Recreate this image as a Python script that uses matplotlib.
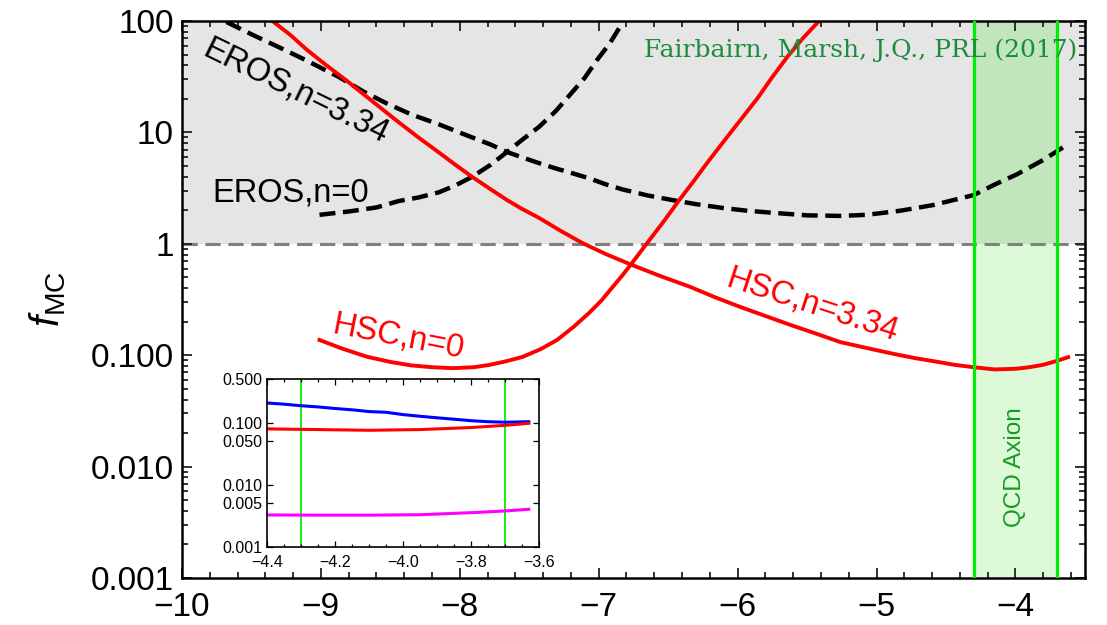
import numpy as np
import matplotlib
matplotlib.use("Agg")
import matplotlib.pyplot as plt
from matplotlib.ticker import FixedLocator, MultipleLocator, LogLocator, NullFormatter

plt.rcParams['font.family'] = ['Liberation Sans', 'DejaVu Sans']
plt.rcParams['mathtext.fontset'] = 'custom'
plt.rcParams['mathtext.rm'] = 'Liberation Sans'
plt.rcParams['mathtext.it'] = 'Liberation Sans:italic'

# ---- main panel data: log10 of mass vs. microhalo fraction ----
eros_n0_x = [-9.01, -8.80, -8.60, -8.44, -8.30, -8.15, -8.03, -7.91, -7.78, -7.66,
             -7.55, -7.43, -7.31, -7.19, -7.10, -7.01, -6.92, -6.83]
eros_n0_y = [1.82, 1.95, 2.12, 2.42, 2.6, 2.9, 3.35, 4.0, 5.1, 6.67,
             8.6, 11.2, 15.5, 23.0, 31.0, 45.0, 63.0, 96.0]

eros_n334_x = [-9.68, -9.50, -9.30, -9.10, -8.87, -8.70, -8.53, -8.35, -8.15, -8.03,
               -7.91, -7.78, -7.66, -7.54, -7.43, -7.31, -7.19, -7.07, -6.95, -6.83,
               -6.65, -6.47, -6.30, -6.11, -5.93, -5.75, -5.50, -5.26, -5.07, -4.83,
               -4.59, -4.30, -4.15, -3.99, -3.80, -3.62]
eros_n334_y = [98.0, 76.0, 58.0, 44.0, 31.4, 23.5, 18.3, 14.5, 11.8, 10.3,
               9.0, 7.8, 6.67, 5.9, 5.3, 4.75, 4.3, 3.88, 3.42, 3.08,
               2.72, 2.47, 2.27, 2.1, 1.98, 1.9, 1.8, 1.78, 1.82, 1.98,
               2.23, 2.74, 3.4, 4.2, 5.65, 7.86]

hsc_n334_x = [-9.34, -9.22, -9.10, -8.96, -8.82, -8.64, -8.46, -8.30, -8.15, -8.03,
              -7.91, -7.78, -7.66, -7.55, -7.43, -7.28, -7.12, -6.95, -6.76, -6.55,
              -6.34, -6.16, -5.98, -5.80, -5.62, -5.44, -5.26, -5.07, -4.88, -4.72,
              -4.58, -4.44, -4.30, -4.15, -4.00, -3.90, -3.80, -3.70, -3.62]
hsc_n334_y = [98.0, 75.0, 55.0, 40.0, 29.5, 19.5, 12.9, 9.05, 6.6, 5.1,
              3.98, 3.1, 2.47, 2.05, 1.71, 1.32, 1.02, 0.81, 0.645, 0.51,
              0.41, 0.33, 0.271, 0.225, 0.187, 0.157, 0.131, 0.116, 0.103, 0.094,
              0.088, 0.082, 0.078, 0.0745, 0.0755, 0.078, 0.082, 0.089, 0.096]

hsc_n0_x = [-9.01, -8.85, -8.67, -8.50, -8.35, -8.20, -8.05, -7.90, -7.79, -7.67,
            -7.55, -7.42, -7.30, -7.18, -7.07, -6.98, -6.90, -6.83, -6.76, -6.65,
            -6.53, -6.42, -6.32, -6.22, -6.10, -5.98, -5.86, -5.75, -5.64, -5.53,
            -5.42]
hsc_n0_y = [0.137, 0.115, 0.097, 0.087, 0.081, 0.078, 0.0765, 0.078, 0.0817, 0.088,
            0.0964, 0.113, 0.137, 0.18, 0.239, 0.31, 0.409, 0.52, 0.673, 1.02,
            1.6, 2.47, 3.6, 5.31, 8.3, 12.9, 20.0, 31.4, 48.0, 70.0,
            98.0]

qcd_band = [-4.3, -3.7]

x_ticks = [-10, -9, -8, -7, -6, -5, -4]
x_ticklabels = ['\u221210', '\u22129', '\u22128', '\u22127', '\u22126', '\u22125', '\u22124']
y_ticks = [0.001, 0.01, 0.1, 1, 10, 100]
y_ticklabels = ['0.001', '0.010', '0.100', '1', '10', '100']

# ---- inset data: zoom on the QCD axion window ----
inset_blue_x = [-4.40, -4.35, -4.30, -4.25, -4.20, -4.15, -4.10, -4.05, -4.00, -3.95,
                -3.90, -3.85, -3.80, -3.75, -3.70, -3.63]
inset_blue_y = [0.206, 0.197, 0.186, 0.178, 0.168, 0.160, 0.150, 0.146, 0.134, 0.126,
                0.119, 0.113, 0.107, 0.103, 0.101, 0.103]
inset_red_x = [-4.40, -4.25, -4.10, -3.95, -3.80, -3.70, -3.63]
inset_red_y = [0.079, 0.077, 0.075, 0.077, 0.083, 0.090, 0.097]
inset_mag_x = [-4.40, -4.25, -4.10, -3.95, -3.80, -3.70, -3.63]
inset_mag_y = [0.00327, 0.00325, 0.00325, 0.0033, 0.00356, 0.00379, 0.00404]

inset_x_ticks = [-4.4, -4.2, -4.0, -3.8, -3.6]
inset_x_ticklabels = ['\u22124.4', '\u22124.2', '\u22124.0', '\u22123.8', '\u22123.6']
inset_y_ticks = [0.001, 0.005, 0.01, 0.05, 0.1, 0.5]
inset_y_ticklabels = ['0.001', '0.005', '0.010', '0.050', '0.100', '0.500']

# ---- figure ----
fig = plt.figure(figsize=(11.07, 6.25), dpi=100)
ax = fig.add_axes([0.1644, 0.0752, 0.8156, 0.8912])

xmin, xmax = -10, -3.5
ymin, ymax = 0.001, 100
ax.set_xlim(xmin, xmax)
ax.set_yscale('log')
ax.set_ylim(ymin, ymax)

# excluded region f > 1
ax.fill_between([xmin, xmax], 1, ymax, color='#e5e5e5', lw=0, zorder=0)
# QCD axion window
ax.fill_between(qcd_band, ymin, 1, color='#dcfad7', lw=0, zorder=0.5)
ax.fill_between(qcd_band, 1, ymax, color='#c1e6bc', lw=0, zorder=0.5)
for xv in qcd_band:
    ax.axvline(xv, color='#00ee00', lw=2.3, zorder=3)
ax.axhline(1, color='#808080', lw=2.2, dashes=(5, 2.5), zorder=1)

dash = (3.6, 1.7)
ax.plot(eros_n0_x, eros_n0_y, color='black', lw=3.2, dashes=dash, zorder=2)
ax.plot(eros_n334_x, eros_n334_y, color='black', lw=3.2, dashes=dash, zorder=2)
ax.plot(hsc_n334_x, hsc_n334_y, color='#ff0000', lw=2.8, zorder=2.5)
ax.plot(hsc_n0_x, hsc_n0_y, color='#ff0000', lw=2.8, zorder=2.5)

lab_fs = 23.5
ax.text(-9.22, 2.86, 'EROS,n=0', fontsize=lab_fs, ha='center', va='center')
ax.text(-9.18, 23.1, 'EROS,n=3.34', fontsize=lab_fs, ha='center', va='center',
        rotation=-26, rotation_mode='anchor')
ax.text(-8.44, 0.146, 'HSC,n=0', fontsize=lab_fs, ha='center', va='center',
        rotation=-11, rotation_mode='anchor', color='#ff0000')
ax.text(-5.46, 0.282, 'HSC,n=3.34', fontsize=lab_fs, ha='center', va='center',
        rotation=-18, rotation_mode='anchor', color='#ff0000')
ax.text(-4.0, 0.0099, 'QCD Axion', fontsize=17.5, ha='center', va='center',
        rotation=90, color='#159a22')
ax.text(0.992, 0.948, 'Fairbairn, Marsh, J.Q., PRL (2017)', transform=ax.transAxes,
        fontsize=18, ha='right', va='center', color='#1a8c3c',
        family=['DejaVu Serif'])

ax.xaxis.set_major_locator(FixedLocator(x_ticks))
ax.set_xticklabels(x_ticklabels)
ax.xaxis.set_minor_locator(MultipleLocator(0.2))
ax.yaxis.set_major_locator(FixedLocator(y_ticks))
ax.set_yticklabels(y_ticklabels)
ax.yaxis.set_minor_locator(LogLocator(base=10, subs=np.arange(2, 10), numticks=20))
ax.yaxis.set_minor_formatter(NullFormatter())
ax.tick_params(which='both', direction='in', top=True, right=True, width=1.3, color='#222222')
ax.tick_params(which='major', length=7, labelsize=24)
ax.tick_params(axis='y', which='major', pad=6)
ax.tick_params(axis='x', which='major', pad=10)
ax.tick_params(which='minor', length=4)
for s in ax.spines.values():
    s.set_linewidth(1.8)

ax.set_ylabel(r'$f_{\mathrm{MC}}$', fontsize=29)
ax.yaxis.set_label_coords(-0.126, 0.5)

# ---- inset ----
axi = fig.add_axes([0.2412, 0.1248, 0.2457, 0.2688])
axi.set_xlim(-4.4, -3.6)
axi.set_yscale('log')
axi.set_ylim(0.001, 0.5)
for xv in qcd_band:
    axi.axvline(xv, color='#00ee00', lw=1.3, zorder=1)
axi.plot(inset_blue_x, inset_blue_y, color='#0000ff', lw=2.2, zorder=2)
axi.plot(inset_red_x, inset_red_y, color='#ff0000', lw=2.2, zorder=2)
axi.plot(inset_mag_x, inset_mag_y, color='#ff00ff', lw=2.2, zorder=2)
axi.xaxis.set_major_locator(FixedLocator(inset_x_ticks))
axi.set_xticklabels(inset_x_ticklabels)
axi.xaxis.set_minor_locator(MultipleLocator(0.05))
axi.yaxis.set_major_locator(FixedLocator(inset_y_ticks))
axi.set_yticklabels(inset_y_ticklabels)
axi.yaxis.set_minor_locator(FixedLocator([]))
axi.tick_params(which='both', direction='in', top=True, right=True, width=0.9)
axi.tick_params(which='major', length=4, labelsize=11.5)
axi.tick_params(axis='y', which='major', pad=3)
axi.tick_params(axis='x', which='major', pad=6)
axi.tick_params(which='minor', length=2)
for s in axi.spines.values():
    s.set_linewidth(1.2)

fig.savefig('out.png', dpi=100)
